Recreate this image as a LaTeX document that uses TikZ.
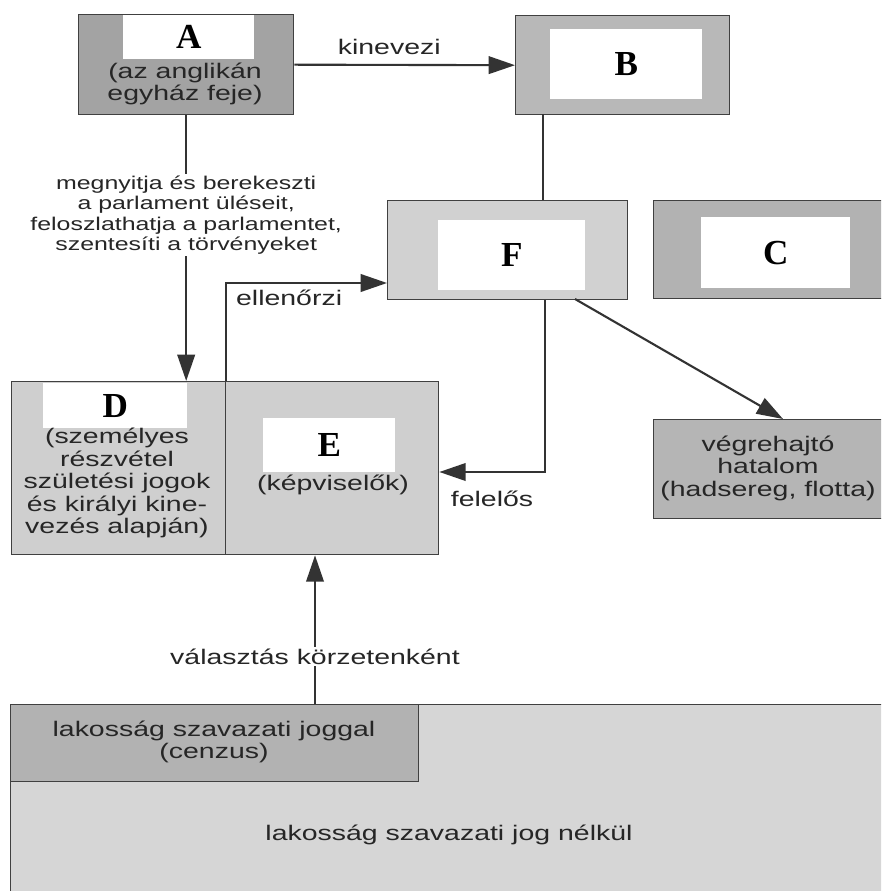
\documentclass[tikz,border=0pt]{standalone}
\usepackage{fontspec}
\setmainfont{Liberation Sans}[FakeStretch=1.35]
\newfontfamily\letterfont{Liberation Serif}
\usetikzlibrary{positioning,arrows.meta}

\begin{document}
\begin{tikzpicture}[x=0.02cm,y=-0.02cm,
  box/.style={draw=black!75,line width=0.8pt,rectangle,inner sep=0pt,anchor=north west},
  lbl/.style={fill=white,rectangle,inner sep=0pt,anchor=north west,
    font=\letterfont\bfseries\fontsize{20}{20}\selectfont},
  txt/.style={align=center,inner sep=1pt,text=black!85,
    font=\fontsize{12}{12.8}\selectfont},
  arr/.style={-{Triangle[length=15pt,width=10pt]},line width=1.2pt,draw=black!80}]

 \clip (0,0) rectangle (881,891);
 \fill[white] (0,0) rectangle (881,891);

 % boxes
 \node[box,fill=black!36,minimum width=4.30cm,minimum height=2.00cm] (A) at (78,14) {};
 \node[box,fill=black!28,minimum width=4.28cm,minimum height=1.98cm] (B) at (515,15) {};
 \node[box,fill=black!18,minimum width=4.80cm,minimum height=1.98cm] (F) at (387,200) {};
 \node[box,fill=black!30,minimum width=5.00cm,minimum height=1.96cm] (C) at (653,200) {};
 \node[box,fill=black!19,minimum width=4.28cm,minimum height=3.46cm] (D) at (11,381) {};
 \node[box,fill=black!19,minimum width=4.26cm,minimum height=3.46cm] (E) at (225,381) {};
 \node[box,fill=black!29,minimum width=4.60cm,minimum height=1.98cm] (exec) at (653,419) {};
 \node[box,fill=black!16,minimum width=17.56cm,minimum height=5.24cm] (nojog) at (10,704) {};
 \node[box,fill=black!30,minimum width=8.16cm,minimum height=1.54cm] (cenzus) at (10,704) {};

 % white letter fields
 \node[lbl,minimum width=2.62cm,minimum height=0.88cm] (Albl) at (123,15) {A};
 \node[lbl,minimum width=3.04cm,minimum height=1.40cm] (Blbl) at (550,29) {B};
 \node[lbl,minimum width=2.94cm,minimum height=1.40cm] (Flbl) at (438,220) {F};
 \node[lbl,minimum width=2.98cm,minimum height=1.42cm] (Clbl) at (701,217) {C};
 \node[lbl,minimum width=2.88cm,minimum height=0.90cm] (Dlbl) at (43,383) {D};
 \node[lbl,minimum width=2.64cm,minimum height=1.08cm] (Elbl) at (263,418) {E};

 % texts in the boxes
 \node[txt] (Atxt) at (185,84) {(az anglikán\\egyház feje)};
 \node[txt] (Dtxt) at (117,483) {(személyes\\részvétel\\születési jogok\\és királyi kine-\\vezés alapján)};
 \node[txt] (Etxt) at (333,485) {(képviselők)};
 \node[txt] (exectxt) at (768,468) {végrehajtó\\hatalom\\(hadsereg, flotta)};
 \node[txt] (cenzustxt) at (214,742) {lakosság szavazati joggal\\(cenzus)};
 \node[txt] (nojogtxt) at (449,835) {lakosság szavazati jog nélkül};

 % connectors
 \coordinate (bf) at (543,114);
 \coordinate (ell) at (0,283);
 \coordinate (fel) at (545,472);
 \coordinate (fx) at (575,299);
 \coordinate (ex) at (783,0);
 \coordinate (vx) at (315,0);

 \draw [arr] (A.east) -- node[txt,above,pos=0.43,yshift=4pt] (kinevezi) {kinevezi} (B.west);
 \draw [line width=1.2pt,draw=black!80] (bf) -- (bf |- F.north);
 \draw [arr] (A.south) --
 node[txt,fill=white,pos=0.375,font=\fontsize{10.5}{11.6}\selectfont] (jogok)
 {megnyitja és berekeszti\\a parlament üléseit,\\feloszlathatja a parlamentet,\\szentesíti a törvényeket}
 (A.south |- D.north);
 \draw [arr] (D.north east) |- (F.west |- ell);
 \node[txt,anchor=west] (ellenorzi) at (234,298) {ellenőrzi};
 \draw [arr] (F.south -| fel) |- (E.east |- fel);
 \node[txt] (felelos) at (492,499) {felelős};
 \draw [arr] (fx) -- (exec.north -| ex);
 \draw [arr] (nojog.north -| vx) --
 node[txt,fill=white,pos=0.32] (valasztas) {választás körzetenként}
 (E.south -| vx);
\end{tikzpicture}
\end{document}
